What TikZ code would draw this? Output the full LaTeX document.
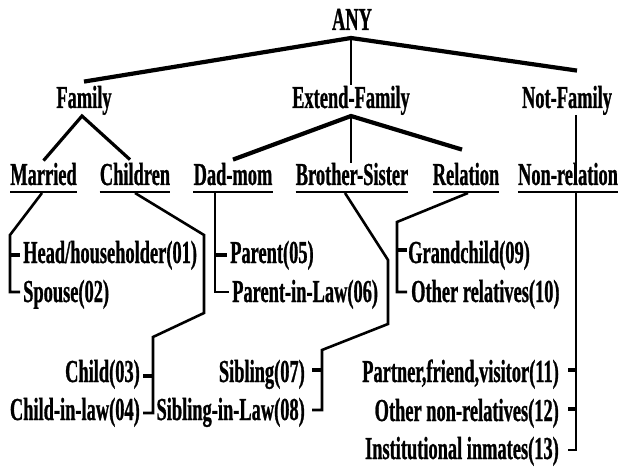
\documentclass[tikz,border=0pt]{standalone}
\usepackage{fontspec}
\newfontfamily\treefont[FakeStretch=0.575,BoldFeatures={FakeBold=0.8}]{Liberation Serif}
\usetikzlibrary{positioning}
\begin{document}
\begin{tikzpicture}[x=1pt,y=1pt,
	v/.style={inner sep=0pt,anchor=base,%
		font=\treefont\bfseries\fontsize{32}{34}\selectfont},%
	wide/.style={line width=4.2pt},%
	mid/.style={line width=3.2pt},%
	thin/.style={line width=2pt},%
	ul/.style={line width=2.6pt},%
	brk/.style={line width=2.6pt,line join=miter},%
	tk/.style={line width=4pt}]
	\useasboundingbox (0,0) rectangle (623,-470);
	% top levels
	\node[v] (any) at (352,-30) {ANY};
	\node[v] (family) at (84,-108) {Family};
	\node[v] (extfam) at (351,-108) {Extend-Family};
	\node[v] (notfam) at (567,-108) {Not-Family};
	% groups
	\node[v] (married) at (43.5,-185) {Married};
	\node[v] (children) at (135,-185) {Children};
	\node[v] (dadmom) at (233,-185) {Dad-mom};
	\node[v] (brosis) at (352,-185) {Brother-Sister};
	\node[v] (relation) at (466,-185) {Relation};
	\node[v] (nonrel) at (568,-185) {Non-relation};
	% codes
	\node[v,anchor=base west] (head) at (23,-263) {Head/householder(01)};
	\node[v,anchor=base west] (spouse) at (23,-302) {Spouse(02)};
	\node[v,anchor=base west] (parent) at (230,-263) {Parent(05)};
	\node[v,anchor=base west] (parentlaw) at (232,-302) {Parent-in-Law(06)};
	\node[v,anchor=base west] (grand) at (408,-263) {Grandchild(09)};
	\node[v,anchor=base west] (otherrel) at (411,-302) {Other relatives(10)};
	\node[v,anchor=base east] (child) at (140,-382) {Child(03)};
	\node[v,anchor=base east] (childlaw) at (140,-420) {Child-in-law(04)};
	\node[v,anchor=base east] (sibling) at (305,-382) {Sibling(07)};
	\node[v,anchor=base east] (siblaw) at (305,-420) {Sibling-in-Law(08)};
	\node[v,anchor=base east] (partner) at (559,-382) {Partner,friend,visitor(11)};
	\node[v,anchor=base east] (othernon) at (559,-421) {Other non-relatives(12)};
	\node[v,anchor=base east] (inmates) at (559,-459) {Institutional inmates(13)};
	% tree lines
	\draw[wide] ([yshift=4]family.north) -- ([xshift=-1,yshift=-8]any.base) -- ([xshift=10,yshift=15]notfam.north);
	\draw[thin] ([xshift=-1,yshift=-8]any.base) -- ([yshift=1]extfam.north);
	\draw[mid] ([yshift=2]married.north) -- ([xshift=-2,yshift=-8]family.base) -- ([xshift=-5,yshift=3]children.north);
	\draw[wide] ([yshift=3]dadmom.north) -- ([yshift=-8]extfam.base) -- ([xshift=-4,yshift=13]relation.north);
	\draw[thin] ([yshift=-8]extfam.base) -- ([xshift=-1]brosis.north);
	\draw[thin] ([xshift=9,yshift=-7]notfam.base) -- ([xshift=8]nonrel.north);
	\foreach \n in {married,children,dadmom,brosis,relation,nonrel}
		\draw[ul] ([yshift=-7]\n.base west) -- ([yshift=-7]\n.base east);
	% brackets
	\draw[brk] ([xshift=-1.5,yshift=-8]married.base) -- ([xshift=-13,yshift=28]head.base west) |- ([xshift=-3,yshift=10]spouse.base west);
	\draw[tk] ([xshift=-13,yshift=8]head.base west) -- ([xshift=-3,yshift=8]head.base west);
	\draw[brk] ([xshift=-18,yshift=-8]dadmom.base) |- ([xshift=-3,yshift=10]parentlaw.base west);
	\draw[tk] ([xshift=-15,yshift=8]parent.base west) -- ([xshift=-3,yshift=8]parent.base west);
	\draw[brk] ([xshift=2,yshift=-8]relation.base) -- ([xshift=-11,yshift=41]grand.base west) |- ([xshift=-4,yshift=10]otherrel.base west);
	\draw[tk] ([xshift=-11,yshift=13]grand.base west) -- ([xshift=-1,yshift=13]grand.base west);
	\draw[brk] ([yshift=-8]children.base) -- ++(69,-42) -- ++(0,-78) -- ([xshift=13,yshift=45]child.base east) |- ([xshift=3,yshift=7]childlaw.base east);
	\draw[tk] ([xshift=13,yshift=6]child.base east) -- ([xshift=3,yshift=6]child.base east);
	\draw[brk] ([xshift=-7,yshift=-8]brosis.base) -- ++(43,-67) -- ++(0,-64) -- ([xshift=17,yshift=32]sibling.base east) |- ([xshift=7,yshift=10]siblaw.base east);
	\draw[tk] ([xshift=17,yshift=12]sibling.base east) -- ([xshift=7,yshift=12]sibling.base east);
	\draw[brk] ([xshift=8,yshift=-8]nonrel.base) |- ([xshift=9,yshift=9]inmates.base east);
	\foreach \n in {partner,othernon}
		\draw[tk] ([xshift=9,yshift=12]\n.base east) -- ([xshift=17,yshift=12]\n.base east);
\end{tikzpicture}
\end{document}
